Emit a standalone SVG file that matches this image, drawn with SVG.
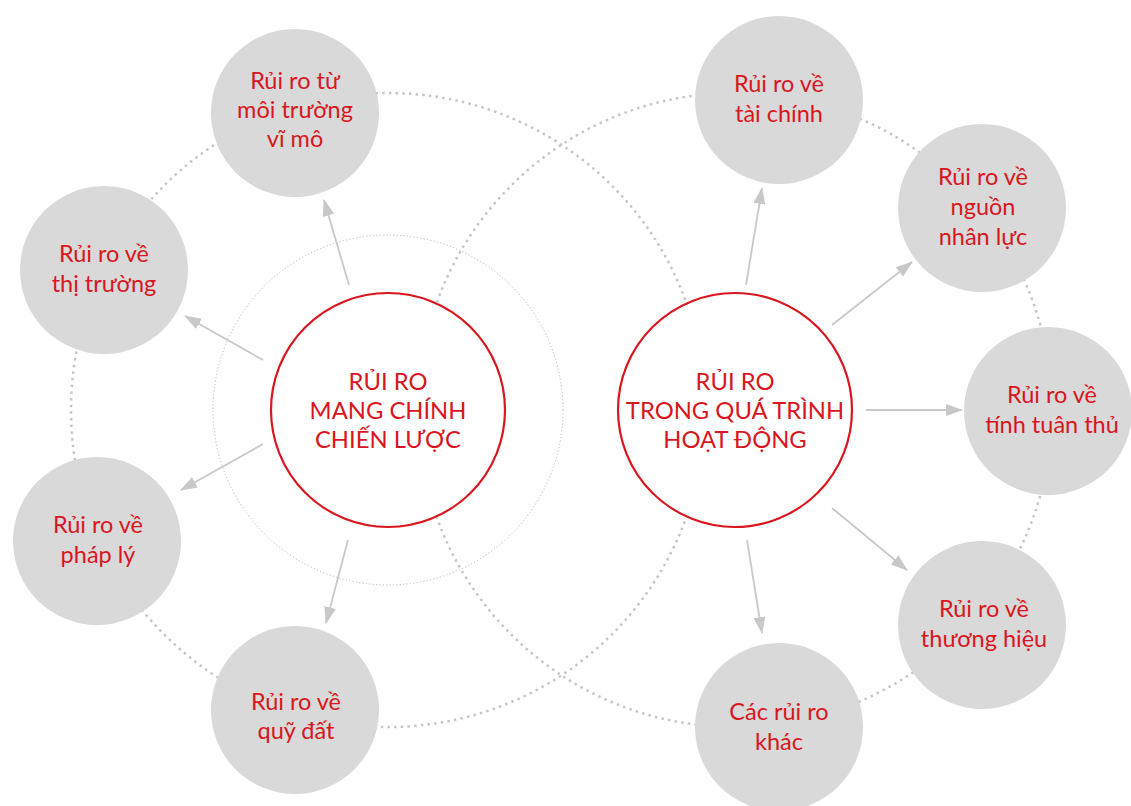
<svg xmlns="http://www.w3.org/2000/svg" width="1131" height="806" viewBox="0 0 1131 806">
<defs>
<marker id="ah" markerWidth="17" markerHeight="12" refX="16" refY="6" orient="auto" markerUnits="userSpaceOnUse">
<path d="M0,0 L17,6 L0,12 Z" fill="#c8c8c8"/>
</marker>
<style>
.orbit{fill:none;stroke:#c6c6c6;stroke-width:2.5;stroke-dasharray:2.5 4.2}
.thin{fill:none;stroke:#b8b8b8;stroke-width:1;stroke-dasharray:1.2 2.2}
.hub{fill:#fff;stroke:#d9161e;stroke-width:2.2}
.node{fill:#d9d9d9}
.hubt{font-family:Lato,"Liberation Sans",sans-serif;font-size:23.8px;fill:#d9161e;text-anchor:middle}
.nt{font-family:Lato,"Liberation Sans",sans-serif;font-size:23.5px;fill:#d9161e;text-anchor:middle}
.arr{stroke:#c8c8c8;stroke-width:1.8;fill:none;marker-end:url(#ah)}
</style>
</defs>
<rect width="1131" height="806" fill="#fff"/>
<g id="orbits">
<circle class="orbit" cx="388" cy="410" r="317"/>
<circle class="orbit" cx="735" cy="410" r="317"/>
<circle class="thin" cx="388" cy="410" r="175"/>
</g>
<g id="hub-left">
<circle class="hub" cx="388" cy="410" r="117"/>
<text class="hubt"><tspan x="388" y="390">RỦI RO</tspan><tspan x="388" y="419">MANG CHÍNH</tspan><tspan x="388" y="448">CHIẾN LƯỢC</tspan></text>
</g>
<g id="hub-right">
<circle class="hub" cx="735" cy="410" r="117"/>
<text class="hubt"><tspan x="735" y="390">RỦI RO</tspan><tspan x="735" y="419">TRONG QUÁ TRÌNH</tspan><tspan x="735" y="448">HOẠT ĐỘNG</tspan></text>
</g>
<g id="n-vimo">
<circle class="node" cx="295" cy="113" r="84"/>
<text class="nt"><tspan x="295" y="89">Rủi ro từ</tspan><tspan x="295" y="118">môi trường</tspan><tspan x="295" y="147">vĩ mô</tspan></text>
</g>
<g id="n-thitruong">
<circle class="node" cx="104" cy="270" r="84"/>
<text class="nt"><tspan x="104" y="262">Rủi ro về</tspan><tspan x="104" y="292">thị trường</tspan></text>
</g>
<g id="n-phaply">
<circle class="node" cx="97" cy="541" r="84"/>
<text class="nt"><tspan x="98" y="533">Rủi ro về</tspan><tspan x="98" y="563">pháp lý</tspan></text>
</g>
<g id="n-quydat">
<circle class="node" cx="295" cy="710" r="84"/>
<text class="nt"><tspan x="296" y="710">Rủi ro về</tspan><tspan x="296" y="739">quỹ đất</tspan></text>
</g>
<g id="n-taichinh">
<circle class="node" cx="779" cy="100" r="84"/>
<text class="nt"><tspan x="779" y="92">Rủi ro về</tspan><tspan x="779" y="122">tài chính</tspan></text>
</g>
<g id="n-nhanluc">
<circle class="node" cx="982" cy="208" r="84"/>
<text class="nt"><tspan x="983" y="185">Rủi ro về</tspan><tspan x="983" y="215">nguồn</tspan><tspan x="983" y="245">nhân lực</tspan></text>
</g>
<g id="n-tuanthu">
<circle class="node" cx="1048" cy="411" r="84"/>
<text class="nt"><tspan x="1052" y="403">Rủi ro về</tspan><tspan x="1052" y="433">tính tuân thủ</tspan></text>
</g>
<g id="n-thuonghieu">
<circle class="node" cx="982" cy="625" r="84"/>
<text class="nt"><tspan x="984" y="617">Rủi ro về</tspan><tspan x="984" y="647">thương hiệu</tspan></text>
</g>
<g id="n-khac">
<circle class="node" cx="779" cy="727" r="84"/>
<text class="nt"><tspan x="779" y="720">Các rủi ro</tspan><tspan x="779" y="750">khác</tspan></text>
</g>
<g id="connectors">
<line class="arr" x1="349" y1="285" x2="324" y2="200"/>
<line class="arr" x1="263" y1="360" x2="185" y2="316"/>
<line class="arr" x1="263" y1="444" x2="181" y2="490"/>
<line class="arr" x1="348" y1="540" x2="326" y2="623"/>
<line class="arr" x1="746" y1="285" x2="762" y2="188"/>
<line class="arr" x1="832" y1="325" x2="912" y2="262"/>
<line class="arr" x1="866" y1="410" x2="962" y2="410"/>
<line class="arr" x1="832" y1="508" x2="907" y2="570"/>
<line class="arr" x1="747" y1="540" x2="762" y2="633"/>
</g>
</svg>
